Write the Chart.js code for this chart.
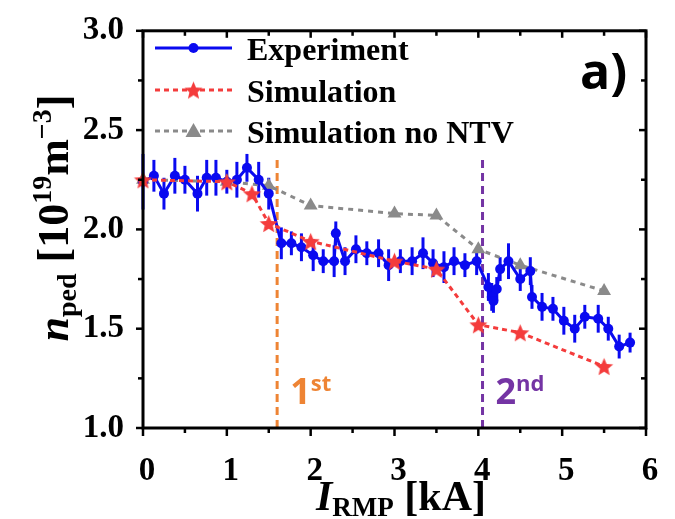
<!DOCTYPE html>
<html><head><meta charset="utf-8">
<script src="https://cdn.jsdelivr.net/npm/chart.js@4.4.0/dist/chart.umd.min.js"></script>
<style>html,body{margin:0;padding:0;background:#fff;}#wrap{width:675px;height:519px;}</style>
</head><body><div id="wrap"><canvas id="c" width="675" height="519"></canvas></div>
<script>
// ---- data ----
const seriesNames = ['Experiment', 'Simulation', 'Simulation no NTV'];
const expX = [0.00,0.13,0.25,0.38,0.50,0.65,0.76,0.87,1.00,1.12,1.24,1.38,1.50,1.65,1.77,1.89,2.03,2.15,2.28,2.30,2.41,2.54,2.67,2.81,2.93,3.07,3.21,3.34,3.46,3.59,3.71,3.84,3.98,4.12,4.16,4.18,4.22,4.26,4.36,4.50,4.62,4.64,4.76,4.89,5.02,5.15,5.27,5.43,5.55,5.68,5.81];
const expY = [2.24,2.27,2.18,2.27,2.25,2.18,2.26,2.26,2.24,2.25,2.31,2.25,2.18,1.93,1.93,1.91,1.87,1.84,1.84,1.98,1.84,1.90,1.88,1.88,1.82,1.84,1.84,1.88,1.83,1.81,1.84,1.82,1.84,1.71,1.66,1.64,1.70,1.80,1.84,1.75,1.79,1.66,1.61,1.60,1.54,1.50,1.56,1.55,1.50,1.41,1.43];
const expErr = [0.14,0.08,0.08,0.09,0.07,0.09,0.09,0.09,0.06,0.09,0.07,0.09,0.08,0.08,0.06,0.07,0.08,0.06,0.08,0.06,0.07,0.07,0.06,0.07,0.08,0.06,0.07,0.08,0.07,0.08,0.07,0.06,0.07,0.07,0.07,0.06,0.06,0.06,0.09,0.06,0.07,0.06,0.07,0.06,0.07,0.07,0.06,0.07,0.06,0.06,0.05];
const simX = [0.0,1.0,1.3,1.5,2.0,3.0,3.5,4.0,4.5,5.5];
const simY = [2.25,2.24,2.18,2.03,1.94,1.84,1.80,1.52,1.48,1.31];
const ntvX = [0.0,1.0,1.5,2.0,3.0,3.5,4.0,4.5,5.5];
const ntvY = [2.25,2.24,2.22,2.12,2.08,2.07,1.90,1.82,1.69];
const xTicks = [0,1,2,3,4,5,6];
const yTicks = [1.0,1.5,2.0,2.5,3.0];
const xMinor = [0.5,1.5,2.5,3.5,4.5,5.5];
const yMinor = [1.25,1.75,2.25,2.75];
const thresholdX = [1.6, 4.05];
const thresholdLabel = [['1','st'],['2','nd']];
const panelLabel = 'a)';

// ---- styles ----
const BLUE = '#0a0af0', RED = '#f43c3c', GRAY = '#8a8a8a', ORANGE = '#ee8434', PURPLE = '#7434a4';
const SERIF = '"Liberation Serif","Times New Roman",serif';
const SANS = '"Open Sans","Liberation Sans",sans-serif';

function makeStar(r, color) {
  const s = Math.ceil(r * 2 + 2);
  const c = document.createElement('canvas'); c.width = s; c.height = s;
  const g = c.getContext('2d'); g.fillStyle = color; g.beginPath();
  for (let i = 0; i < 10; i++) {
    const rad = i % 2 === 0 ? r : r * 0.45;
    const a = -Math.PI / 2 + i * Math.PI / 5;
    g.lineTo(s / 2 + rad * Math.cos(a), s / 2 + rad * Math.sin(a) + r * 0.1);
  }
  g.closePath(); g.fill(); return c;
}
const starImg = makeStar(9.5, RED);

function drawRich(ctx, segs, x, y, align) {
  let w = 0;
  segs.forEach(s => { ctx.font = s.font; w += ctx.measureText(s.t).width; });
  let cx = align === 'center' ? x - w / 2 : x;
  ctx.textAlign = 'left'; ctx.textBaseline = 'alphabetic';
  segs.forEach(s => { ctx.font = s.font; ctx.fillStyle = s.color || '#000'; ctx.fillText(s.t, cx, y + (s.dy || 0)); cx += ctx.measureText(s.t).width; });
}

const decor = {
  id: 'decor',
  beforeDatasetsDraw(chart) {
    const ctx = chart.ctx, xs = chart.scales.x, ys = chart.scales.y;
    ctx.save();
    [ORANGE, PURPLE].forEach((col, i) => {
      const px = xs.getPixelForValue(thresholdX[i]);
      ctx.strokeStyle = col; ctx.lineWidth = 3; ctx.setLineDash([8, 5]);
      ctx.beginPath(); ctx.moveTo(px, ys.getPixelForValue(2.35)); ctx.lineTo(px, ys.bottom); ctx.stroke();
    });
    ctx.setLineDash([]);
    ctx.strokeStyle = BLUE; ctx.lineWidth = 3;
    expX.forEach((x, i) => {
      const px = xs.getPixelForValue(x);
      ctx.beginPath();
      ctx.moveTo(px, ys.getPixelForValue(expY[i] - expErr[i]));
      ctx.lineTo(px, ys.getPixelForValue(expY[i] + expErr[i]));
      ctx.stroke();
    });
    ctx.restore();
  },
  afterDatasetsDraw(chart) {
    const ctx = chart.ctx, xs = chart.scales.x, ys = chart.scales.y, a = chart.chartArea;
    ctx.save();
    [ORANGE, PURPLE].forEach((col, i) => {
      const px = xs.getPixelForValue(thresholdX[i]) + 13;
      const py = ys.getPixelForValue(1.12);
      drawRich(ctx, [
        { t: thresholdLabel[i][0], font: 'bold 36px ' + SANS, color: col },
        { t: thresholdLabel[i][1], font: 'bold 22px ' + SANS, color: col, dy: -13 }
      ], px, py, 'left');
    });
    ctx.strokeStyle = '#000'; ctx.lineWidth = 3; ctx.setLineDash([]);
    ctx.strokeRect(a.left, a.top, a.right - a.left, a.bottom - a.top);
    ctx.lineWidth = 2.5;
    const tick = (x1, y1, x2, y2) => { ctx.beginPath(); ctx.moveTo(x1, y1); ctx.lineTo(x2, y2); ctx.stroke(); };
    xTicks.forEach(v => { const p = xs.getPixelForValue(v); tick(p, a.bottom, p, a.bottom + 8); tick(p, a.top, p, a.top + 7); });
    xMinor.forEach(v => { const p = xs.getPixelForValue(v); tick(p, a.bottom, p, a.bottom + 5); tick(p, a.top, p, a.top + 5); });
    yTicks.forEach(v => { const p = ys.getPixelForValue(v); tick(a.left - 7, p, a.left, p); tick(a.right - 7, p, a.right, p); });
    yMinor.forEach(v => { const p = ys.getPixelForValue(v); tick(a.left - 5, p, a.left, p); tick(a.right - 5, p, a.right, p); });
    // legend
    const lx1 = a.left + 12, lx2 = a.left + 89, tx = a.left + 104;
    const rows = [48, 90, 131];
    ctx.lineWidth = 3;
    ctx.strokeStyle = BLUE; tick(lx1, rows[0], lx2, rows[0]);
    ctx.fillStyle = BLUE; ctx.beginPath(); ctx.arc((lx1 + lx2) / 2, rows[0], 5, 0, Math.PI * 2); ctx.fill();
    ctx.strokeStyle = RED; ctx.setLineDash([5, 4]); tick(lx1, rows[1], lx2, rows[1]);
    ctx.setLineDash([]); ctx.drawImage(starImg, (lx1 + lx2) / 2 - starImg.width / 2, rows[1] - starImg.height / 2);
    ctx.strokeStyle = GRAY; ctx.setLineDash([5, 4]); tick(lx1, rows[2], lx2, rows[2]);
    ctx.setLineDash([]); ctx.fillStyle = GRAY; ctx.beginPath();
    const cxm = (lx1 + lx2) / 2; ctx.moveTo(cxm, rows[2] - 8); ctx.lineTo(cxm + 8, rows[2] + 6); ctx.lineTo(cxm - 8, rows[2] + 6); ctx.closePath(); ctx.fill();
    ctx.fillStyle = '#000'; ctx.font = 'bold 32px ' + SERIF; ctx.textAlign = 'left'; ctx.textBaseline = 'alphabetic';
    seriesNames.forEach((n, i) => ctx.fillText(n, tx, rows[i] + 12));
    ctx.font = 'bold 50px ' + SANS; ctx.fillText(panelLabel, a.right - 66, a.top + 58);
    drawRich(ctx, [
      { t: 'I', font: 'italic bold 42px ' + SERIF },
      { t: 'RMP', font: 'bold 27px ' + SERIF, dy: 6 },
      { t: ' [kA]', font: 'bold 42px ' + SERIF }
    ], 401, 510, 'center');
    ctx.translate(68, 218); ctx.rotate(-Math.PI / 2);
    drawRich(ctx, [
      { t: 'n', font: 'italic bold 44px ' + SERIF },
      { t: 'ped', font: 'bold 28px ' + SERIF, dy: 8 },
      { t: ' [10', font: 'bold 44px ' + SERIF },
      { t: '19', font: 'bold 28px ' + SERIF, dy: -17 },
      { t: 'm', font: 'bold 44px ' + SERIF },
      { t: '\u22123', font: 'bold 28px ' + SERIF, dy: -17 },
      { t: ']', font: 'bold 44px ' + SERIF }
    ], 0, 0, 'center');
    ctx.restore();
  }
};

new Chart(document.getElementById('c'), {
  type: 'line',
  data: {
    datasets: [
      { label: seriesNames[1], data: simX.map((x, i) => ({ x, y: simY[i] })), borderColor: RED, borderWidth: 3, borderDash: [5, 4],
        pointStyle: starImg, pointRadius: 9, order: 1, clip: false },
      { label: seriesNames[0], data: expX.map((x, i) => ({ x, y: expY[i] })), borderColor: BLUE, backgroundColor: BLUE, borderWidth: 3,
        pointStyle: 'circle', pointRadius: 5, pointBorderWidth: 0, order: 2, clip: false },
      { label: seriesNames[2], data: ntvX.map((x, i) => ({ x, y: ntvY[i] })), borderColor: GRAY, backgroundColor: GRAY, borderWidth: 3, borderDash: [5, 5],
        pointStyle: 'triangle', pointRadius: 8, pointBorderWidth: 0, order: 3, clip: false }
    ]
  },
  options: {
    responsive: false, animation: false, devicePixelRatio: 1,
    layout: { padding: { top: 22, right: 29, left: 0, bottom: 0 } },
    plugins: { legend: { display: false }, tooltip: { enabled: false } },
    scales: {
      x: { type: 'linear', min: 0, max: 6,
        afterFit: s => { s.height = 91; },
        afterBuildTicks: s => { s.ticks = xTicks.map(v => ({ value: v })); },
        grid: { display: false }, border: { display: false },
        ticks: { padding: 16, labelOffset: 4, color: '#000', font: { family: SERIF, size: 33, weight: 'bold' }, maxRotation: 0, callback: v => String(v) } },
      y: { type: 'linear', min: 1, max: 3,
        afterFit: s => { s.width = 143; },
        afterBuildTicks: s => { s.ticks = yTicks.map(v => ({ value: v })); },
        grid: { display: false }, border: { display: false },
        ticks: { padding: 11, color: '#000', font: { family: SERIF, size: 33, weight: 'bold' }, callback: v => v.toFixed(1) } }
    }
  },
  plugins: [decor]
});
</script>
</body></html>
